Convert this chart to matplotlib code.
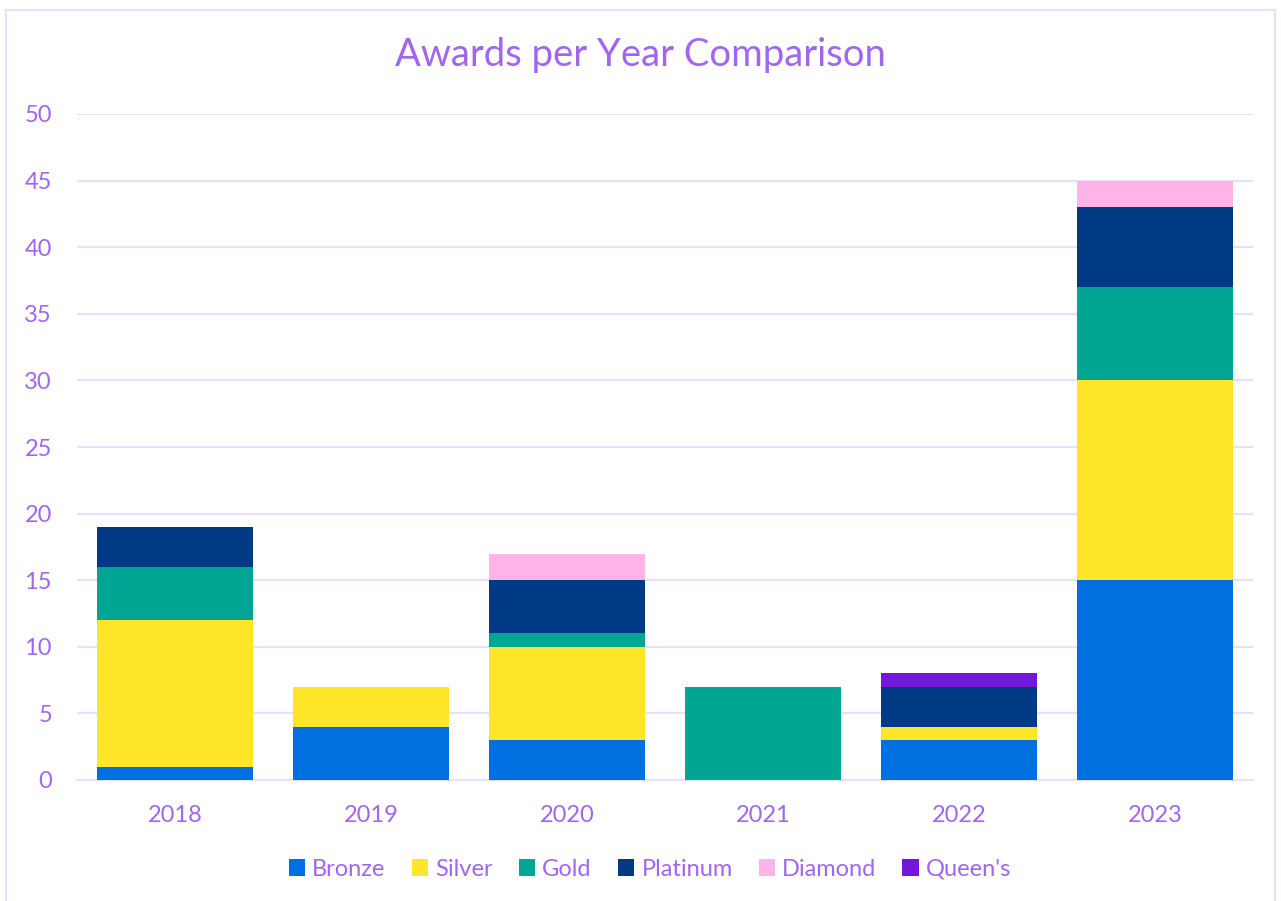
import matplotlib.pyplot as plt
from matplotlib.patches import Rectangle

years = ["2018", "2019", "2020", "2021", "2022", "2023"]
bronze = [1, 4, 3, 0, 3, 15]
silver = [11, 3, 7, 0, 1, 15]
gold = [4, 0, 1, 7, 0, 7]
platinum = [3, 0, 4, 0, 3, 6]
diamond = [0, 0, 2, 0, 0, 2]
queens = [0, 0, 0, 0, 1, 0]

series = [
    ("Bronze", bronze, "#0070e0"),
    ("Silver", silver, "#ffe629"),
    ("Gold", gold, "#00a693"),
    ("Platinum", platinum, "#003a85"),
    ("Diamond", diamond, "#ffb3e6"),
    ("Queen's", queens, "#7516db"),
]

TEXT = "#a066f0"
GRID = "#eadcfc"

plt.rcParams["font.family"] = ["Lato", "DejaVu Sans"]

fig = plt.figure(figsize=(12.81, 9.01), dpi=100)
fig.patches.append(Rectangle((6 / 1281, -0.01), 1269 / 1281, 1 - 10 / 901 + 0.01,
                             transform=fig.transFigure, fill=False,
                             edgecolor=GRID, linewidth=1.5))
ax = fig.add_axes([77 / 1281, 1 - 780 / 901, 1176 / 1281, 666 / 901])

x = list(range(len(years)))
bottom = [0] * len(years)
for name, vals, color in series:
    ax.bar(x, vals, 0.8, bottom=bottom, color=color, label=name, zorder=3)
    bottom = [b + v for b, v in zip(bottom, vals)]

ax.set_xlim(-0.5, len(years) - 0.5)
ax.set_ylim(0, 50)
ax.set_yticks(range(0, 51, 5))
ax.set_xticks(x)
ax.set_xticklabels(years)
ax.grid(axis="y", color=GRID, linewidth=1.5, zorder=0)
for s in ["top", "right", "left"]:
    ax.spines[s].set_visible(False)
ax.spines["bottom"].set_color(GRID)
ax.spines["bottom"].set_linewidth(1.5)
ax.tick_params(length=0, colors=TEXT, labelsize=17)
ax.tick_params(axis="x", pad=18)
ax.tick_params(axis="y", pad=18)

fig.suptitle("Awards per Year Comparison", color=TEXT, fontsize=27.5, y=1 - 55 / 901, va="center")

fig.legend(loc="center", bbox_to_anchor=(650 / 1281, 1 - 869 / 901), ncol=6, frameon=False,
           fontsize=17, labelcolor=TEXT, handlelength=0.7, handleheight=0.7,
           handletextpad=0.3, columnspacing=1.1)

fig.savefig("out.png", dpi=100)
